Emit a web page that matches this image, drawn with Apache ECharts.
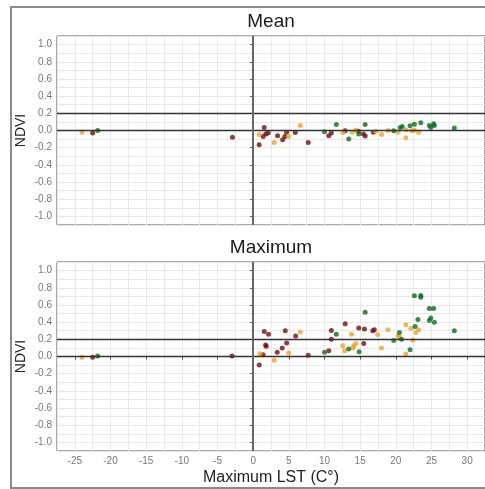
<!DOCTYPE html>
<html>
<head>
<meta charset="utf-8">
<script src="https://cdn.jsdelivr.net/npm/echarts@6/dist/echarts.min.js"></script>
<style>
html, body { margin: 0; padding: 0; background: #fff; }
#chart { width: 485px; height: 489px; }
</style>
</head>
<body>
<div id="chart"></div>
<script>
// tick labels
var yTicks = [-1.0, -0.8, -0.6, -0.4, -0.2, 0.0, 0.2, 0.4, 0.6, 0.8, 1.0];
var xTicks = [-25, -20, -15, -10, -5, 0, 5, 10, 15, 20, 25, 30];
var refY = [0, 0.2];
var refX = [0];

// Mean NDVI vs max LST, [lst, ndvi]
var meanRed = [[-22.5,-0.03],[-2.9,-0.08],[0.84,-0.165],[1.55,0.035],[1.4,-0.07],[1.78,-0.04],[2.1,-0.03],
	[3.42,-0.06],[4.13,-0.107],[4.69,-0.02],[4.45,-0.07],[5.9,-0.023],[7.72,-0.14],[10.6,-0.06],[10.96,-0.03],
	[12.9,-0.004],[14.75,-0.01],[15.45,-0.04],[15.7,-0.065],[16.85,-0.02]];
var meanOrange = [[-24.0,-0.02],[0.84,-0.046],[2.95,-0.14],[4.97,-0.07],[6.6,0.058],[12.6,-0.023],[13.9,-0.02],
	[14.4,0.004],[17.2,-0.01],[18.0,-0.046],[18.9,0.0],[20.3,-0.02],[21.4,-0.084],[21.4,0.008],[22.25,-0.003],
	[22.6,0.004],[23.2,-0.023]];
var meanGreen = [[-21.8,0.0],[10.0,-0.015],[11.66,0.07],[13.4,-0.1],[14.8,-0.04],[15.7,0.07],[19.7,-0.003],
	[20.6,0.035],[20.9,0.046],[22.0,0.054],[22.6,0.074],[23.5,0.09],[24.7,0.058],[24.9,0.035],[25.3,0.078],
	[25.4,0.058],[28.2,0.028]];

// Maximum NDVI vs max LST
var maxRed = [[-22.5,-0.01],[-2.95,0.005],[0.84,-0.098],[1.4,0.02],[1.55,0.29],[1.74,0.133],[1.83,0.12],
	[2.16,0.26],[3.37,0.05],[4.07,0.1],[4.69,0.157],[4.5,0.3],[5.95,0.24],[7.72,0.016],[10.6,0.067],
	[10.96,0.302],[10.96,0.2],[12.9,0.38],[14.8,0.333],[15.6,0.32],[15.5,0.15],[16.77,0.3],[16.99,0.31]];
var maxOrange = [[-24.0,-0.01],[0.94,0.031],[2.95,-0.043],[4.97,0.04],[6.6,0.286],[12.56,0.126],[12.84,0.067],
	[13.8,0.26],[14.1,0.126],[14.4,0.15],[14.0,0.1],[17.45,0.255],[18.0,0.1],[18.9,0.31],[20.3,0.24],
	[20.5,0.23],[21.4,0.03],[22.4,0.19],[21.4,0.37],[22.1,0.33],[22.8,0.28],[23.2,0.31]];
var maxGreen = [[-21.8,0.005],[10.0,0.05],[11.66,0.26],[13.4,0.086],[14.86,0.055],[15.7,0.514],[19.7,0.185],
	[20.5,0.28],[20.8,0.2],[22.0,0.08],[22.6,0.706],[22.7,0.35],[23.1,0.43],[23.5,0.71],[23.5,0.69],
	[24.7,0.56],[25.3,0.56],[24.7,0.42],[24.9,0.447],[25.4,0.40],[28.2,0.30]];

var FONT = '"Liberation Sans", Arial, sans-serif';
var RED = '#6d1212', ORANGE = '#eea236', GREEN = '#0f6b21';

var chart = echarts.init(document.getElementById('chart'), null, { renderer: 'canvas' });

var gridTops = [36, 262];
var grids = [], xAxes = [], yAxes = [], series = [];

for (var g = 0; g < 2; g++) {
	grids.push({ left: 57, width: 429, top: gridTops[g], height: 189, show: true,
		backgroundColor: '#fff', borderColor: '#555', borderWidth: 1 });
	// data x axis: gridlines every 2.5
	xAxes.push({ type: 'value', gridIndex: g, position: 'bottom', min: -27.5, max: 32.5, interval: 2.5,
		axisLine: { show: false }, axisTick: { show: false }, axisLabel: { show: false },
		splitLine: { lineStyle: { color: '#e8e8e8', width: 1 } } });
	// tick/label x axis
	xAxes.push({ type: 'value', gridIndex: g, position: 'bottom', min: -27.5, max: 32.5,
		axisLine: { show: false }, splitLine: { show: false },
		axisTick: { show: g == 1, length: 3, customValues: xTicks, lineStyle: { color: '#555' } },
		axisLabel: { show: g == 1, customValues: xTicks, margin: 5, fontSize: 10, color: '#777', fontFamily: FONT },
		name: g == 1 ? 'Maximum LST (C°)' : '', nameLocation: 'middle', nameGap: 19, nameMoveOverlap: false,
		nameTextStyle: { fontSize: 16, color: '#222', fontFamily: FONT } });
	yAxes.push({ type: 'value', gridIndex: g, position: 'left', min: -1.1, max: 1.1, interval: 0.1,
		axisLine: { show: false }, axisTick: { show: false }, axisLabel: { show: false },
		splitLine: { lineStyle: { color: '#e8e8e8', width: 1 } } });
	yAxes.push({ type: 'value', gridIndex: g, min: -1.1, max: 1.1, position: 'left',
		axisLine: { show: false }, splitLine: { show: false },
		axisTick: { show: true, length: 3, customValues: yTicks, lineStyle: { color: '#555' } },
		axisLabel: { customValues: yTicks, margin: 5, fontSize: 10, color: '#777', fontFamily: FONT,
			formatter: function(v) { return v.toFixed(1); } },
		name: 'NDVI', nameLocation: 'middle', nameGap: 29, nameMoveOverlap: false,
		nameTextStyle: { fontSize: 14, color: '#222', fontFamily: FONT } });
}

function refLines(g)
{
	var data = [];
	for (var i = 0; i < refY.length; i++) data.push({ yAxis: refY[i], lineStyle: { color: '#333', width: 1.3, type: 'solid' } });
	for (var j = 0; j < refX.length; j++) data.push({ xAxis: refX[j], lineStyle: { color: '#666', width: 2, type: 'solid' } });
	return { type: 'line', xAxisIndex: g * 2, yAxisIndex: g * 2, data: [], z: 1,
		markLine: { silent: true, symbol: ['none', 'none'], label: { show: false }, animation: false, data: data } };
}

function dots(g, data, color)
{
	return { type: 'scatter', xAxisIndex: g * 2, yAxisIndex: g * 2, data: data, z: 3,
		symbol: 'circle', symbolSize: 5, itemStyle: { color: color } };
}

series.push(refLines(0), refLines(1));
series.push(dots(0, meanRed, RED), dots(0, meanOrange, ORANGE), dots(0, meanGreen, GREEN));
series.push(dots(1, maxRed, RED), dots(1, maxOrange, ORANGE), dots(1, maxGreen, GREEN));

chart.setOption({
	animation: false,
	backgroundColor: '#fff',
	title: [
		{ text: 'Mean', left: 271, top: 12, textAlign: 'center', padding: 0,
			textStyle: { fontSize: 19, fontWeight: 'normal', color: '#1a1a1a', fontFamily: FONT } },
		{ text: 'Maximum', left: 271, top: 238, textAlign: 'center', padding: 0,
			textStyle: { fontSize: 19, fontWeight: 'normal', color: '#1a1a1a', fontFamily: FONT } }
	],
	graphic: [
		{ type: 'rect', shape: { x: 11, y: 7, width: 490, height: 481 }, silent: true, z: -1,
			style: { fill: 'none', stroke: '#8a8a8a', lineWidth: 2 } }
	],
	grid: grids,
	xAxis: xAxes,
	yAxis: yAxes,
	series: series
});
</script>
</body>
</html>
